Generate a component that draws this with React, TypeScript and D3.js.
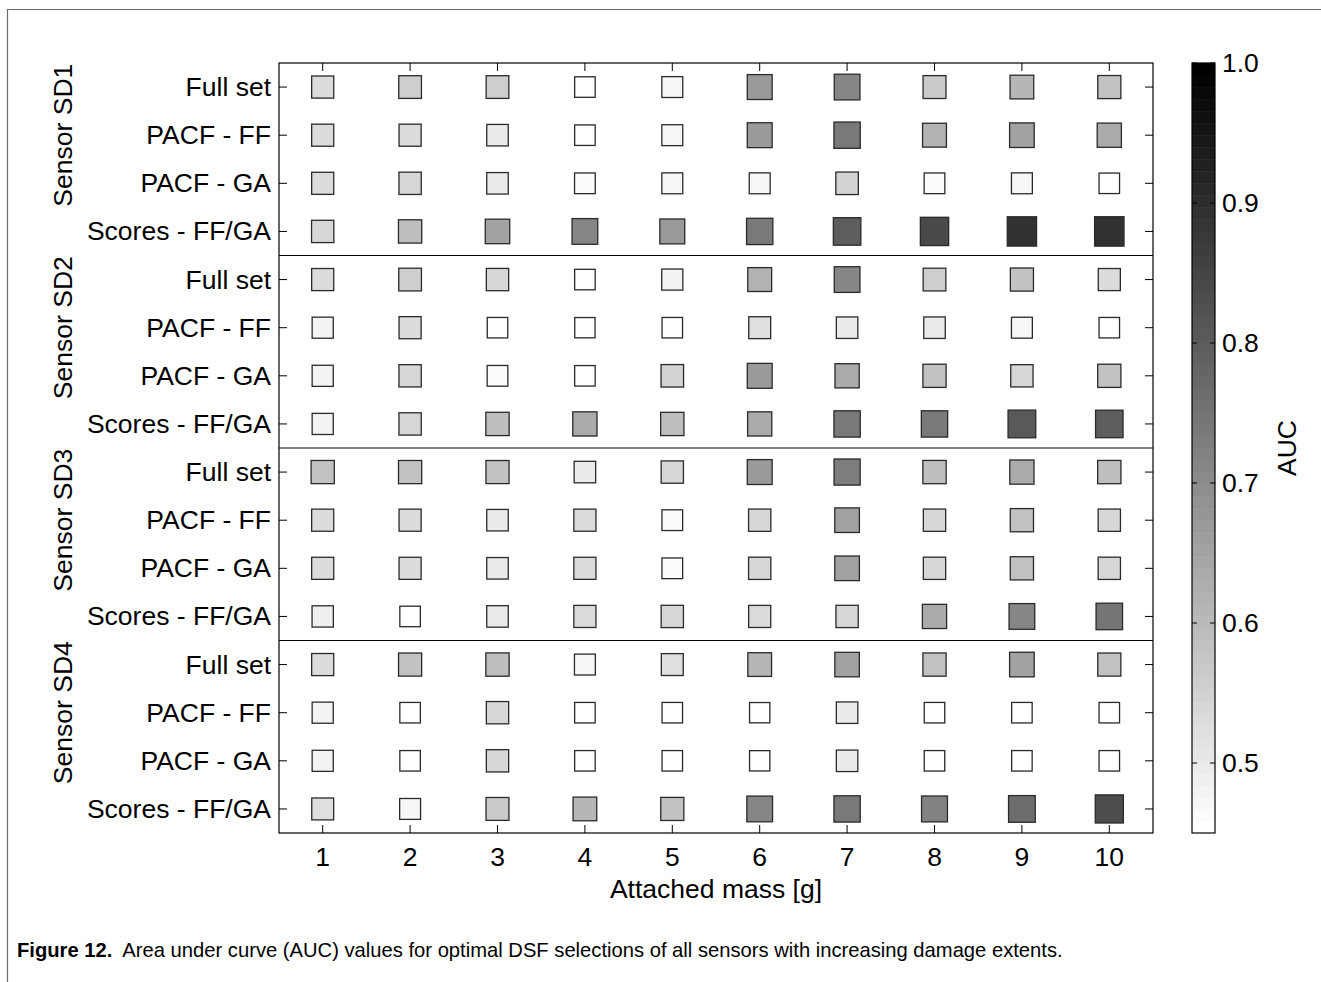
import React from "react";
import * as d3 from "d3";

// attached mass [g]
const masses = [1, 2, 3, 4, 5, 6, 7, 8, 9, 10];
const sensors = ["Sensor SD1", "Sensor SD2", "Sensor SD3", "Sensor SD4"];
const methods = ["Full set", "PACF - FF", "PACF - GA", "Scores - FF/GA"];

// AUC per sensor, rows follow `methods`
const aucSD1 = [
  [0.53, 0.56, 0.56, 0.45, 0.47, 0.67, 0.71, 0.57, 0.61, 0.58],
  [0.53, 0.53, 0.5, 0.45, 0.47, 0.67, 0.74, 0.62, 0.655, 0.635],
  [0.53, 0.54, 0.5, 0.46, 0.47, 0.47, 0.55, 0.46, 0.47, 0.45],
  [0.54, 0.59, 0.65, 0.71, 0.67, 0.74, 0.8, 0.84, 0.89, 0.895],
];
const aucSD2 = [
  [0.53, 0.56, 0.54, 0.45, 0.48, 0.62, 0.71, 0.56, 0.58, 0.53],
  [0.48, 0.53, 0.45, 0.44, 0.45, 0.52, 0.5, 0.5, 0.47, 0.45],
  [0.48, 0.54, 0.46, 0.45, 0.55, 0.67, 0.635, 0.585, 0.54, 0.585],
  [0.48, 0.54, 0.59, 0.635, 0.59, 0.635, 0.74, 0.74, 0.81, 0.8],
];
const aucSD3 = [
  [0.585, 0.585, 0.58, 0.5, 0.54, 0.67, 0.73, 0.59, 0.635, 0.59],
  [0.53, 0.53, 0.5, 0.53, 0.46, 0.54, 0.655, 0.54, 0.585, 0.54],
  [0.53, 0.53, 0.5, 0.53, 0.46, 0.54, 0.655, 0.54, 0.585, 0.54],
  [0.49, 0.45, 0.5, 0.53, 0.54, 0.53, 0.54, 0.635, 0.71, 0.75],
];
const aucSD4 = [
  [0.53, 0.58, 0.59, 0.47, 0.52, 0.61, 0.65, 0.585, 0.655, 0.58],
  [0.48, 0.45, 0.54, 0.45, 0.45, 0.44, 0.5, 0.45, 0.45, 0.45],
  [0.48, 0.45, 0.54, 0.45, 0.45, 0.44, 0.5, 0.45, 0.45, 0.45],
  [0.52, 0.47, 0.57, 0.61, 0.58, 0.71, 0.74, 0.72, 0.76, 0.83],
];
const aucBySensor = [aucSD1, aucSD2, aucSD3, aucSD4];

const cbTicks = [0.5, 0.6, 0.7, 0.8, 0.9, 1.0];
const cLow = 0.45;
const cHigh = 1.0;
const nLevels = 64;

const W = 1321;
const H = 982;
const left = 279, right = 1153, top = 63, bottom = 833;
const font = "'Liberation Sans', Arial, Helvetica, sans-serif";

const level = (v: number) =>
  Math.max(0, Math.min(nLevels - 1, Math.floor(((v - cLow) / (cHigh - cLow)) * nLevels)));
const grayOf = (k: number) => {
  const g = Math.round(255 * (1 - k / (nLevels - 1)));
  return d3.rgb(g, g, g).formatHex();
};

export default function App() {
  const rows = sensors.flatMap((s, si) => methods.map((m, mi) => `${si}-${mi}`));
  const x = d3.scaleBand<number>().domain(masses).range([left, right]);
  const y = d3.scaleBand<string>().domain(rows).range([top, bottom]);
  const size = d3.scaleLinear().domain([0.45, 0.9]).range([21.5, 30.5]);
  const cbY = d3.scaleLinear().domain([cLow, cHigh]).range([bottom, top]);
  const cbX0 = 1192, cbX1 = 1215;
  const tick = 8;

  const cells = aucBySensor.flatMap((block, si) =>
    block.flatMap((vals, mi) =>
      vals.map((v, i) => ({ key: `${si}-${mi}`, m: masses[i], v }))
    )
  );

  const levels = d3.range(nLevels);
  const bandH = (bottom - top) / nLevels;

  return (
    <svg
      width={W}
      height={H}
      style={{ position: "absolute", left: 0, top: 0, background: "#fff" }}
      fontFamily={font}
    >
      {/* figure frame */}
      <path d={`M7.5,${H} V9.5 H${W}`} fill="none" stroke="#6a6a6a" strokeWidth={1.2} />

      {/* cells */}
      {cells.map((c, i) => {
        const s = size(c.v) - 1;
        const cx = x(c.m)! + x.bandwidth() / 2;
        const cy = y(c.key)! + y.bandwidth() / 2;
        return (
          <rect
            key={i}
            x={cx - s / 2}
            y={cy - s / 2}
            width={s}
            height={s}
            fill={grayOf(level(c.v))}
            stroke="#2a2a2a"
            strokeWidth={1.3}
          />
        );
      })}

      {/* block separators */}
      {sensors.slice(1).map((s, si) => {
        const yy = y(`${si + 1}-0`)!;
        return <line key={s} x1={left} x2={right} y1={yy} y2={yy} stroke="#000" strokeWidth={1.2} />;
      })}

      {/* plot box */}
      <rect x={left} y={top} width={right - left} height={bottom - top} fill="none" stroke="#000" strokeWidth={1.2} />

      {/* x ticks */}
      {masses.map((m) => {
        const cx = x(m)! + x.bandwidth() / 2;
        return (
          <g key={m}>
            <line x1={cx} x2={cx} y1={top} y2={top + tick} stroke="#000" />
            <line x1={cx} x2={cx} y1={bottom} y2={bottom - tick} stroke="#000" />
            <text x={cx} y={866} fontSize={26.5} textAnchor="middle" fill="#000">
              {m}
            </text>
          </g>
        );
      })}
      <text x={(left + right) / 2} y={898} fontSize={26.5} textAnchor="middle" fill="#000">
        Attached mass [g]
      </text>

      {/* y ticks */}
      {rows.map((r) => {
        const cy = y(r)! + y.bandwidth() / 2;
        const mi = +r.split("-")[1];
        return (
          <g key={r}>
            <line x1={left} x2={left + tick} y1={cy} y2={cy} stroke="#000" />
            <line x1={right} x2={right - tick} y1={cy} y2={cy} stroke="#000" />
            <text x={271} y={cy} fontSize={26.5} textAnchor="end" dominantBaseline="central" fill="#000">
              {methods[mi]}
            </text>
          </g>
        );
      })}

      {/* sensor labels */}
      {sensors.map((s, si) => {
        const cy = y(`${si}-1`)! + y.bandwidth() / 2;
        return (
          <text
            key={s}
            transform={`translate(72,${cy}) rotate(-90)`}
            fontSize={26.5}
            textAnchor="middle"
            fill="#000"
          >
            {s}
          </text>
        );
      })}

      {/* colorbar */}
      {levels.map((k) => (
        <rect
          key={k}
          x={cbX0}
          y={bottom - (k + 1) * bandH}
          width={cbX1 - cbX0}
          height={bandH + 0.5}
          fill={grayOf(k)}
        />
      ))}
      <rect x={cbX0} y={top} width={cbX1 - cbX0} height={bottom - top} fill="none" stroke="#000" strokeWidth={1.2} />
      {cbTicks.map((t) => {
        const yy = cbY(t);
        return (
          <g key={t}>
            <line x1={cbX0} x2={cbX0 + 5} y1={yy} y2={yy} stroke="#000" />
            <line x1={cbX1} x2={cbX1 - 5} y1={yy} y2={yy} stroke="#000" />
            <text x={1222} y={yy} fontSize={26.5} dominantBaseline="central" fill="#000">
              {d3.format(".1f")(t)}
            </text>
          </g>
        );
      })}
      <text
        transform={`translate(1296,${(top + bottom) / 2}) rotate(-90)`}
        fontSize={26.5}
        textAnchor="middle"
        fill="#000"
      >
        AUC
      </text>

      {/* caption */}
      <text x={17} y={957} fontSize={20.2} fill="#000">
        <tspan fontWeight="bold">Figure 12.</tspan>
        <tspan dx={10}>
          Area under curve (AUC) values for optimal DSF selections of all sensors with increasing damage extents.
        </tspan>
      </text>
    </svg>
  );
}
